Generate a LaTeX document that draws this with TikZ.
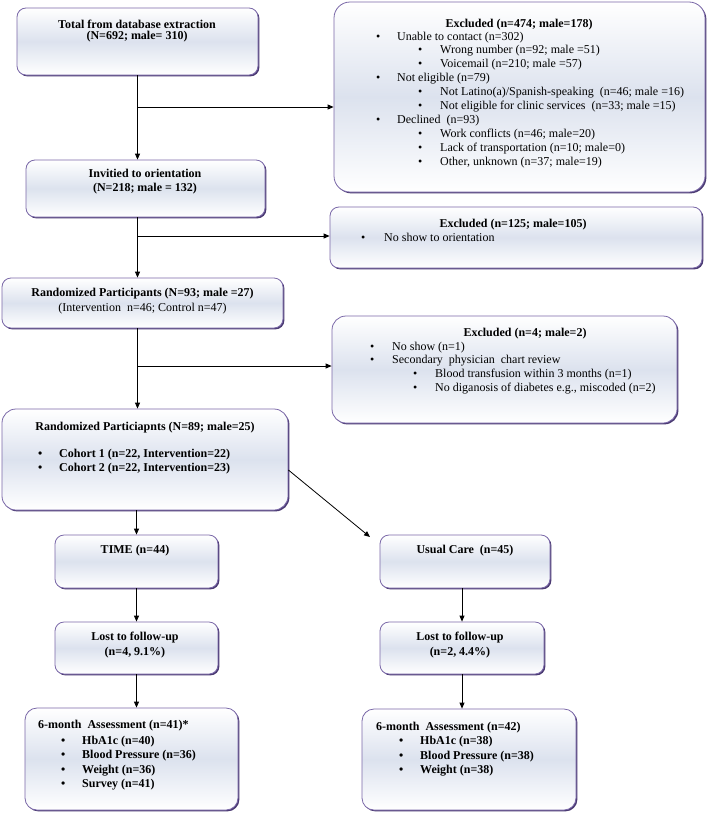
\documentclass[tikz,border=0pt]{standalone}
\usepackage{fontspec}
\setmainfont{Liberation Serif}
\usetikzlibrary{arrows.meta,shadows}
\definecolor{bordc}{HTML}{7A68A8}
\definecolor{shadc}{HTML}{4A3A72}
\definecolor{midc}{HTML}{DCE2EE}
\newcommand{\bl}[1]{\makebox[#1][l]{\textbullet}}
\begin{document}
\begin{tikzpicture}[x=1pt,y=1pt,
  box/.style={draw=bordc, line width=0.8pt, rounded corners=9pt,
    top color=white, bottom color=white, middle color=midc,
    drop shadow={shadow xshift=1.4pt, shadow yshift=-1.4pt, fill=shadc, opacity=1},
    inner sep=0pt},
  txt/.style={inner sep=0pt, font=\fontsize{12}{14.5}\selectfont},
  btxt/.style={inner sep=0pt, font=\fontsize{12}{14.5}\selectfont\bfseries},
  arr/.style={draw=black, line width=0.8pt, -{Triangle[length=6pt,width=5pt]}}
]
\useasboundingbox (0,0) rectangle (708,-814);
\fill[white] (0,0) rectangle (708,-814);

% boxes
\node[box, minimum width=241pt, minimum height=67pt] (b1) at (137.5,-41.5) {};
\node[box, rounded corners=16pt, minimum width=371pt, minimum height=190pt] (e1) at (519.5,-97) {};
\node[box, minimum width=239pt, minimum height=57pt] (b2) at (145.5,-188.5) {};
\node[box, minimum width=372pt, minimum height=61pt] (e2) at (516,-237.5) {};
\node[box, minimum width=281pt, minimum height=50pt] (b3) at (142.5,-303) {};
\node[box, rounded corners=14pt, minimum width=345pt, minimum height=107pt] (e3) at (504.5,-369.5) {};
\node[box, rounded corners=14pt, minimum width=286pt, minimum height=101pt] (b4) at (145,-459.5) {};
\node[box, minimum width=163pt, minimum height=53pt] (tm) at (136.5,-561.5) {};
\node[box, minimum width=170pt, minimum height=53pt] (uc) at (465,-561.5) {};
\node[box, minimum width=163pt, minimum height=52pt] (l1) at (136.5,-648) {};
\node[box, minimum width=164pt, minimum height=52pt] (l2) at (462,-648) {};
\node[box, rounded corners=12pt, minimum width=213pt, minimum height=102pt] (a1) at (131.5,-759) {};
\node[box, rounded corners=12pt, minimum width=214pt, minimum height=101pt] (a2) at (469,-759.5) {};

% texts
\node[btxt, font=\fontsize{12}{11}\selectfont\bfseries, align=center, anchor=north] (t1) at (137,-19.5)
  {Total from database extraction\\(N=692; male= 310)};
\node[btxt, align=center, anchor=north] (te1) at (519,-18.5) {Excluded (n=474; male=178)};
\node[txt, font=\fontsize{12}{13.9}\selectfont, align=left, anchor=north west] (le1) at (376,-31.5)
  {\bl{21pt}Unable to contact (n=302)\\
   \hspace{42pt}\bl{22pt}Wrong number (n=92; male =51)\\
   \hspace{42pt}\bl{22pt}Voicemail (n=210; male =57)\\
   \bl{21pt}Not eligible (n=79)\\
   \hspace{42pt}\bl{22pt}Not Latino(a)/Spanish-speaking\ \ (n=46; male =16)\\
   \hspace{42pt}\bl{22pt}Not eligible for clinic services\ \ (n=33; male =15)\\
   \bl{21pt}Declined\ \ (n=93)\\
   \hspace{42pt}\bl{22pt}Work conflicts (n=46; male=20)\\
   \hspace{42pt}\bl{22pt}Lack of transportation (n=10; male=0)\\
   \hspace{42pt}\bl{22pt}Other, unknown (n=37; male=19)};
\node[btxt, align=center, anchor=north] (t2) at (145,-168.5)
  {Invitied to orientation\\(N=218; male = 132)};
\node[btxt, align=center, anchor=north] (te2) at (513,-218.5) {Excluded (n=125; male=105)};
\node[txt, align=left, anchor=north west] (le2) at (361,-232.5) {\bl{23pt}No show to orientation};
\node[txt, font=\fontsize{12}{15}\selectfont, align=center, anchor=north] (t3) at (142.5,-287.5)
  {\textbf{Randomized Participants (N=93; male =27)}\\(Intervention\ \ n=46; Control n=47)};
\node[btxt, align=center, anchor=north] (te3) at (525,-327.5) {Excluded (n=4; male=2)};
\node[txt, font=\fontsize{12}{13.75}\selectfont, align=left, anchor=north west] (le3) at (370,-341.5)
  {\bl{22pt}No show (n=1)\\
   \bl{22pt}Secondary\ \ physician\ \ chart review\\
   \hspace{43pt}\bl{22pt}Blood transfusion within 3 months (n=1)\\
   \hspace{43pt}\bl{22pt}No diganosis of diabetes e.g., miscoded (n=2)};
\node[btxt, anchor=north] (t4) at (145,-421.5) {Randomized Particiapnts (N=89; male=25)};
\node[btxt, font=\fontsize{12}{14}\selectfont\bfseries, align=left, anchor=north west] (lt4) at (38,-448.5)
  {\bl{21pt}Cohort 1 (n=22, Intervention=22)\\
   \bl{21pt}Cohort 2 (n=22, Intervention=23)};
\node[btxt, anchor=north] (ttm) at (135,-544.5) {TIME (n=44)};
\node[btxt, anchor=north] (tuc) at (465,-544.5) {Usual Care\ \ (n=45)};
\node[btxt, font=\fontsize{12}{15}\selectfont\bfseries, align=center, anchor=north] (tl1) at (135,-631.5)
  {Lost to follow-up\\(n=4, 9.1\%)};
\node[btxt, font=\fontsize{12}{15}\selectfont\bfseries, align=center, anchor=north] (tl2) at (460,-631.5)
  {Lost to follow-up\\(n=2, 4.4\%)};
\node[btxt, align=left, anchor=north west] (ta1) at (38,-719.5)
  {6-month\ \ Assessment (n=41)*\\[1.5pt]
   \hspace{23pt}\bl{21pt}HbA1c (n=40)\\
   \hspace{23pt}\bl{21pt}Blood Pressure (n=36)\\
   \hspace{23pt}\bl{21pt}Weight (n=36)\\
   \hspace{23pt}\bl{21pt}Survey (n=41)};
\node[btxt, align=left, anchor=north west] (ta2) at (376,-721.5)
  {6-month\ \ Assessment (n=42)\\
   \hspace{23pt}\bl{21pt}HbA1c (n=38)\\
   \hspace{23pt}\bl{21pt}Blood Pressure (n=38)\\
   \hspace{23pt}\bl{21pt}Weight (n=38)};

% connectors
\coordinate (j1) at (137.5,-107);
\coordinate (j2) at (137.5,-236);
\coordinate (j3) at (137.5,-366);
\coordinate (ucin) at (370,-537);
\draw[arr] (b1.south) -- (b1.south |- b2.north);
\draw[arr] (j1) -- (j1 -| e1.west);
\draw[arr] (b1.south |- b2.south) -- (b1.south |- b3.north);
\draw[arr] (j2) -- (j2 -| e2.west);
\draw[arr] (b1.south |- b3.south) -- (b1.south |- b4.north);
\draw[arr] (j3) -- (j3 -| e3.west);
\draw[arr] (tm.north |- b4.south) -- (tm.north);
\draw[arr] ([yshift=-10.5pt]b4.east) -- (ucin);
\draw[arr] (tm.south) -- (l1.north);
\draw[arr] (l2.north |- uc.south) -- (l2.north);
\draw[arr] (l1.south) -- (l1.south |- a1.north);
\draw[arr] (l2.south) -- (l2.south |- a2.north);
\end{tikzpicture}
\end{document}
